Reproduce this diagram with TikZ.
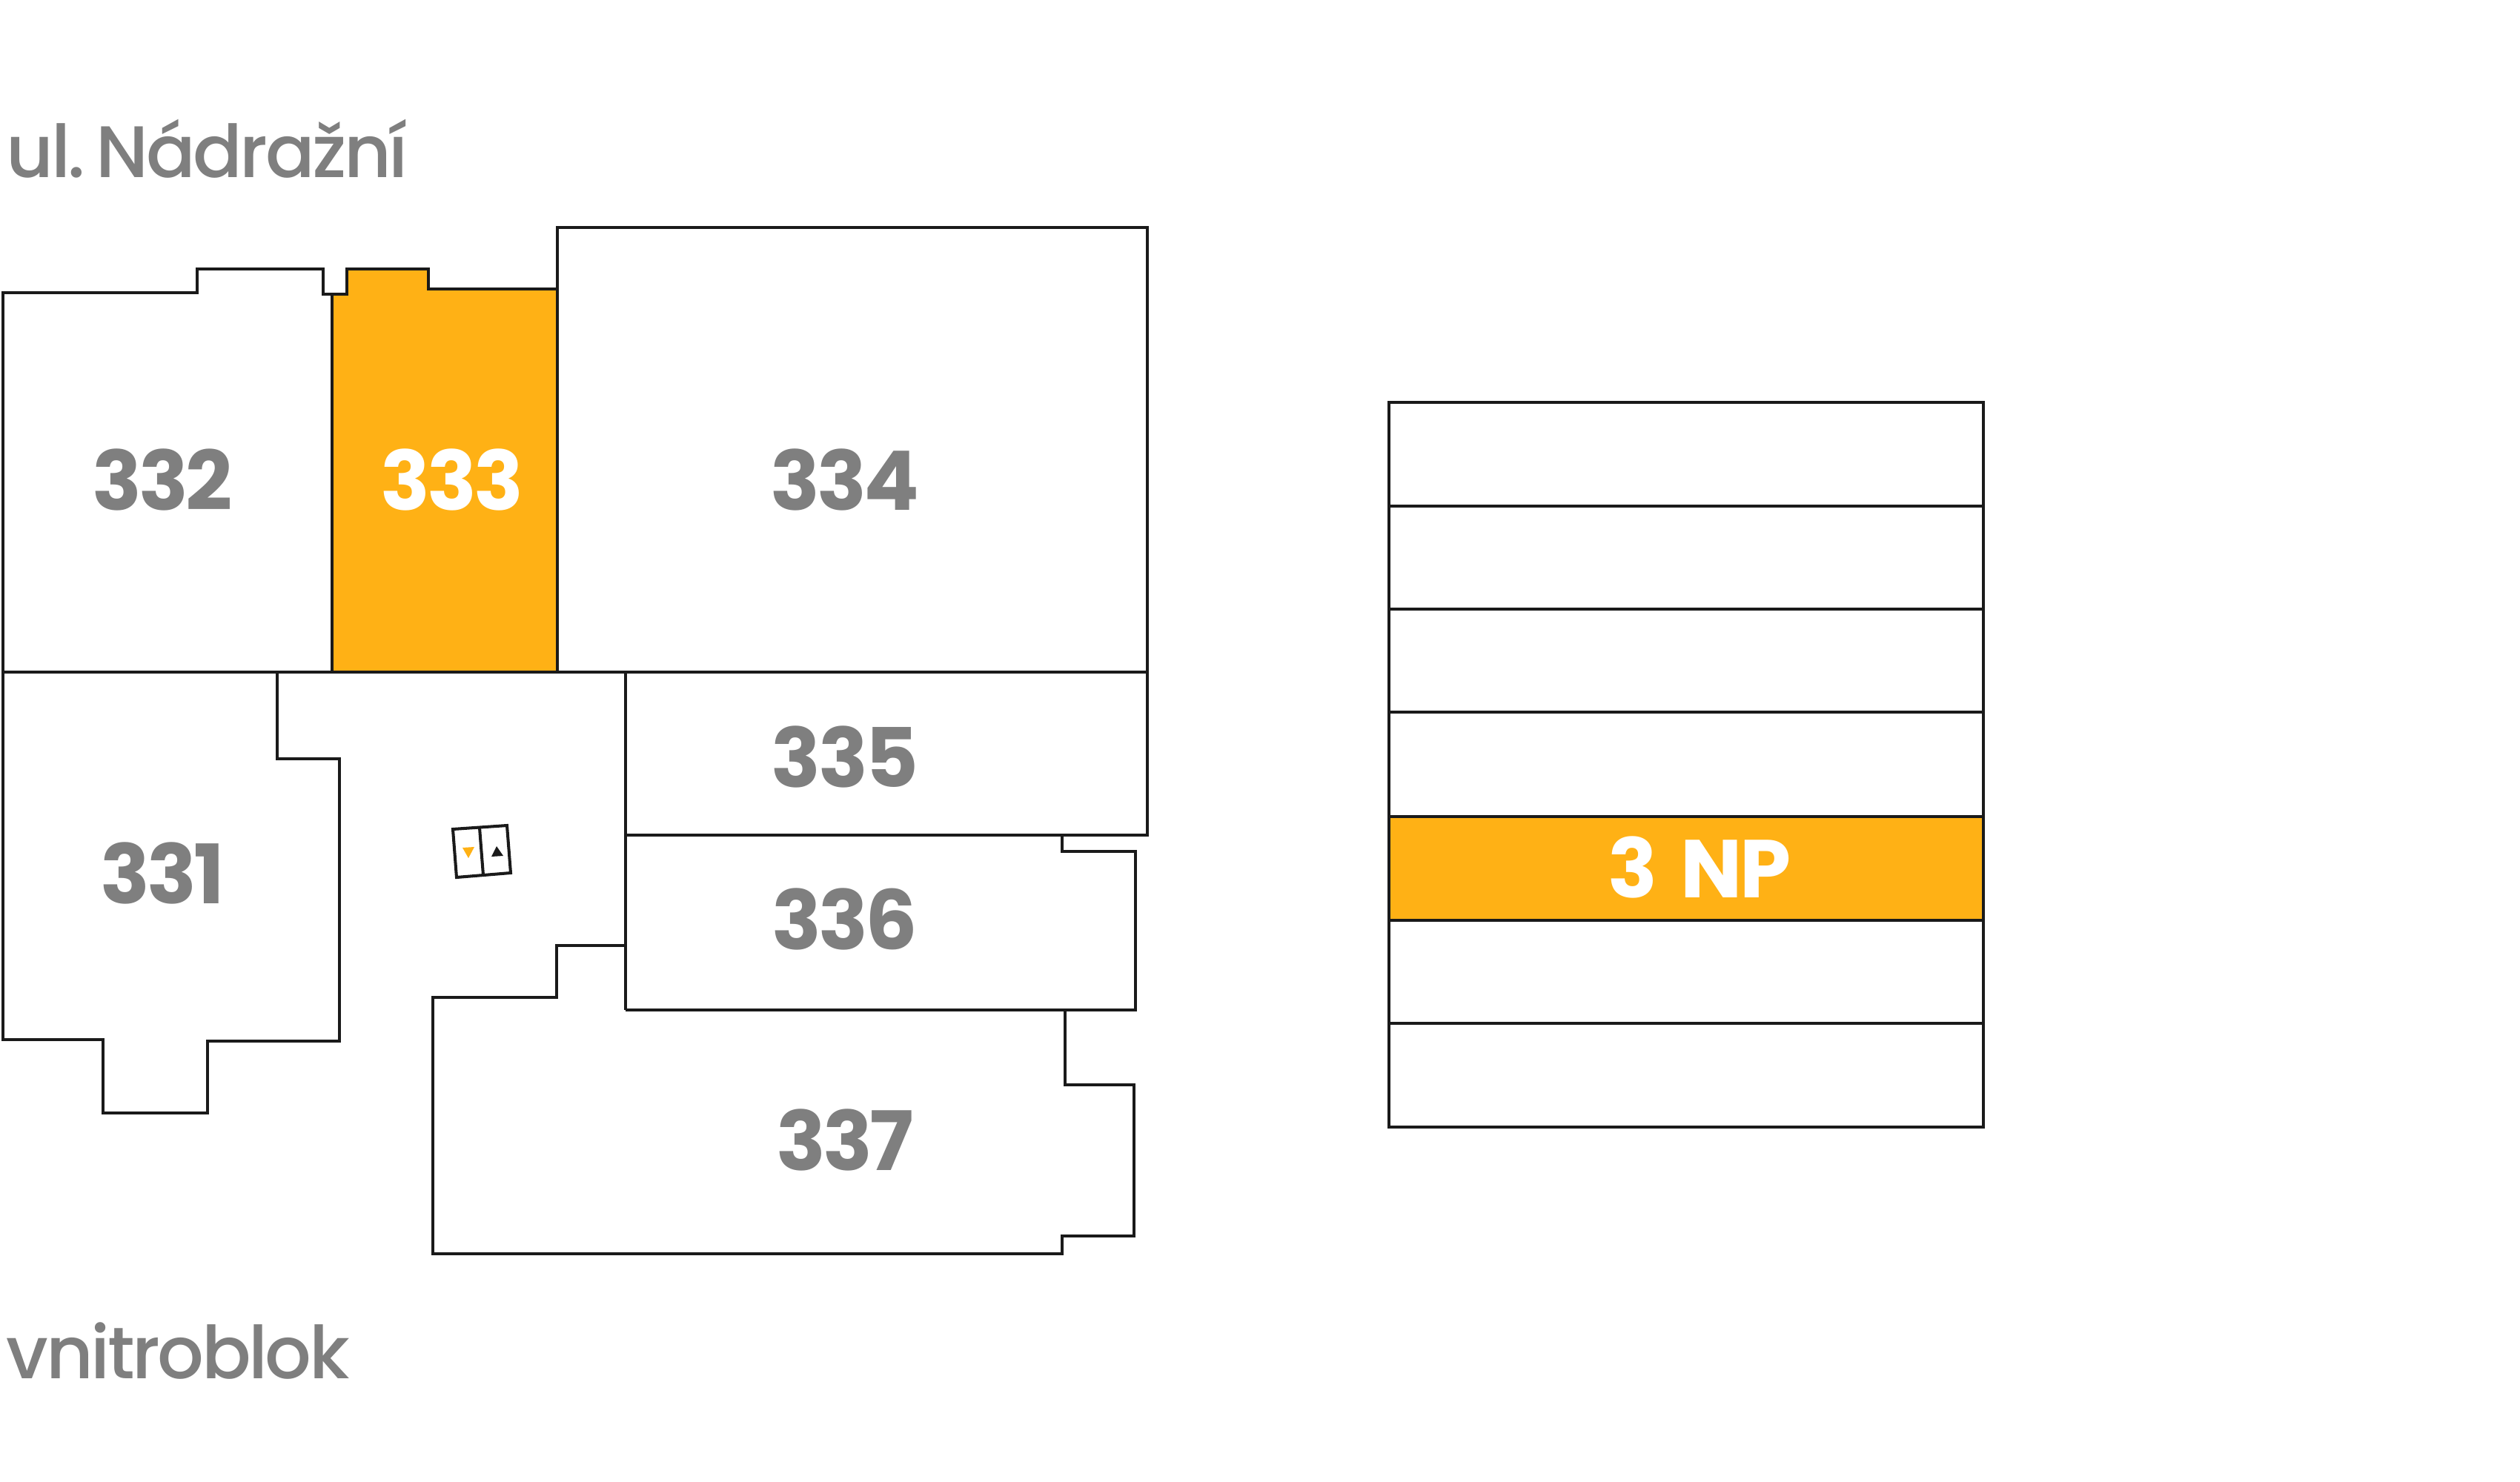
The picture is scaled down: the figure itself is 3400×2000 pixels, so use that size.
\documentclass[tikz,border=0pt]{standalone}
\usepackage{fontspec}
\usepackage{tikz}
\setmainfont{Poppins}[UprightFont=* Medium, BoldFont=* SemiBold]
\newfontfamily\roomfont{Poppins}[UprightFont=* Bold, LetterSpace=-3.5, WordSpace=1.6]
\newfontfamily\sidefont{Poppins}[UprightFont=* Medium, LetterSpace=-3.5, WordSpace=0.3]
\definecolor{roomgray}{HTML}{7F7F7F}
\definecolor{roomorange}{HTML}{FFB115}
\definecolor{wallblack}{HTML}{1A1A1A}
\tikzset{wall/.style = {draw = wallblack, line width = 1.15pt, line join = miter}}
\tikzset{roomlabel/.style = {text = roomgray, font = \fontsize{31.5}{31.5}\selectfont\roomfont, inner sep = 0}}
\tikzset{sidelabel/.style = {text = roomgray, font = \fontsize{28}{28}\selectfont\sidefont, anchor = base west, inner sep = 0}}

\begin{document}
\begin{tikzpicture}[x = 0.01cm, y = -0.01cm]
      \useasboundingbox (0, 0) rectangle (3400, 2000);

      \node [sidelabel] (street) at (8, 239) {ul. Nádražní};
      \node [sidelabel] (yard) at (8, 1860) {vnitroblok};

      % selected room
      \filldraw [wall, fill = roomorange] (448, 907) -- (448, 397) -- (468, 397) -- (468, 363) -- (578, 363)
        -- (578, 390) -- (752, 390) -- (752, 907) -- cycle;

      % upper rooms
      \draw [wall] (4, 907) -- (4, 395) -- (266, 395) -- (266, 363) -- (436, 363) -- (436, 397) -- (468, 397);
      \draw [wall] (752, 390) -- (752, 307) -- (1548, 307) -- (1548, 1127) -- (844, 1127);
      \draw [wall] (4, 907) -- (1548, 907);

      % lower left room
      \draw [wall] (374, 907) -- (374, 1024) -- (458, 1024) -- (458, 1405) -- (280, 1405) -- (280, 1502)
        -- (139, 1502) -- (139, 1403) -- (4, 1403) -- (4, 907);

      % right rooms
      \draw [wall] (844, 907) -- (844, 1363);
      \draw [wall] (1433, 1127) -- (1433, 1149) -- (1532, 1149) -- (1532, 1363) -- (844, 1363);
      \draw [wall] (844, 1276) -- (751, 1276) -- (751, 1346) -- (584, 1346) -- (584, 1692) -- (1433, 1692)
        -- (1433, 1668) -- (1530, 1668) -- (1530, 1464) -- (1437, 1464) -- (1437, 1363);

      % lift
      \draw [wall] (611, 1119) -- (684, 1114) -- (689, 1178) -- (616, 1184) -- cycle;
      \draw [wall] (647, 1117) -- (652, 1181);
      \fill [roomorange] (624, 1144) -- (640, 1143) -- (632, 1158) -- cycle;
      \fill [wallblack] (670, 1142) -- (663, 1156) -- (679, 1155) -- cycle;

      \node [roomlabel] (r332) at (219, 647) {332};
      \node [roomlabel, text = white] (r333) at (610, 647) {333};
      \node [roomlabel] (r334) at (1140, 647) {334};
      \node [roomlabel] (r335) at (1140, 1021) {335};
      \node [roomlabel] (r336) at (1140, 1240) {336};
      \node [roomlabel] (r331) at (219, 1178) {331};
      \node [roomlabel] (r337) at (1140, 1538) {337};

      % floors
      \filldraw [wall, fill = roomorange] (1874, 1102) rectangle (2676, 1242);
      \draw [wall] (1874, 543) rectangle (2676, 1521);
      \foreach \y in {683,822,961,1381} {
        \draw [wall] (1874, \y) -- (2676, \y);
      }
      \node [roomlabel, text = white] (floor3) at (2293, 1170) {3 NP};

    \end{tikzpicture}
\end{document}
